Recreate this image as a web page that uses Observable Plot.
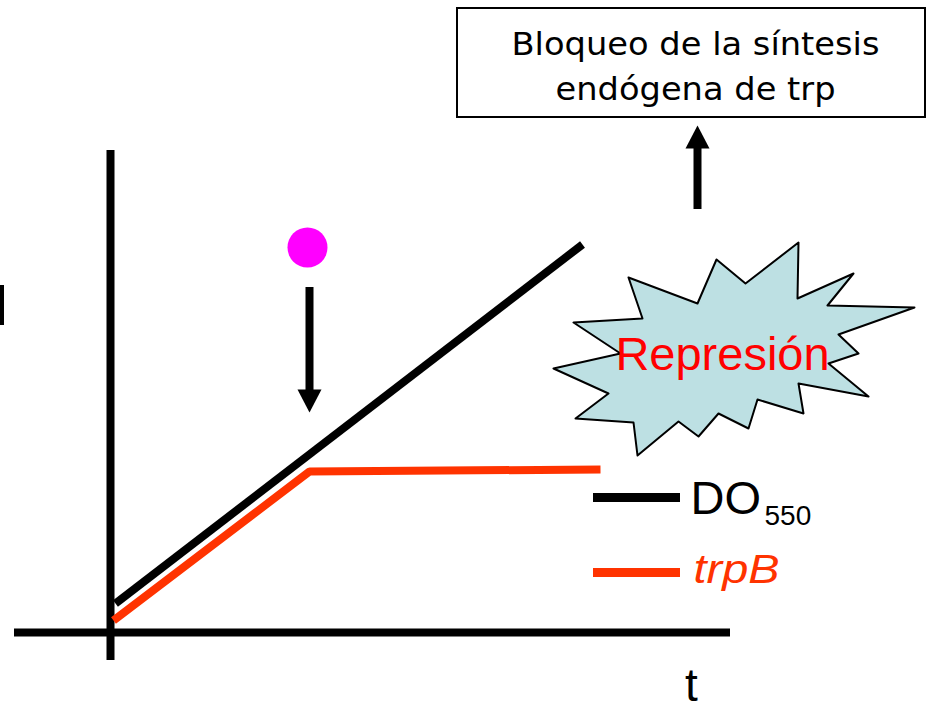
<!DOCTYPE html>
<html>
<head>
<meta charset="utf-8">
<script src="https://cdn.jsdelivr.net/npm/d3@7"></script>
<script src="https://cdn.jsdelivr.net/npm/@observablehq/plot@0.6"></script>
<style>
  html, body { margin: 0; padding: 0; background: white; }
  svg { display: block; }
</style>
</head>
<body>
<div id="chart"></div>
<script>
// ---- data (schematic units: t = time, v = signal) ----
const axisT = [-1.92, 12.4];          // extent of time axis
const axisV = [-0.56, 9.64];          // extent of value axis
const doT = [0.1, 9.44];              // DO550 growth
const doV = [0.58, 7.76];
const trpT = [0.06, 3.98, 9.8];       // trpB expression
const trpV = [0.24, 3.22, 3.26];
const inducerT = [3.94];              // trp addition (magenta dot)
const inducerV = [7.7];
const arrowT = [3.98, 11.74];         // arrows
const arrowFrom = [6.9, 8.46];
const arrowTo = [4.4, 10.14];
const burstT = [13.76,13.74,14.86,14.34,16.08,14.56,14.96,14.36,15.16,13.76,13.86,12.94,12.76,12.16,11.76,11.36,10.54,10.46,9.3,9.96,8.86,10.2,9.26,10.64,10.36,11.74,12.12,12.7];
const burstV = [7.8,6.68,7.18,6.54,6.5,5.96,5.58,5.38,4.72,4.98,4.38,4.66,4.08,4.38,3.92,4.22,3.54,4.2,4.28,4.78,5.28,5.58,6.2,6.28,7.1,6.58,7.46,6.98];
const boxT = [6.94, 16.3];
const boxV = [10.3, 12.48];
const boxLines = ["Bloqueo de la síntesis", "endógena de trp"];
const boxLineV = [11.56, 10.66];
const legendNames = ["DO", "trpB"];
const legendSub = ["550"];
const legendV = [2.7, 1.2];
const legendT = [9.66, 11.4];
const edgeMarkV = [6.14, 6.94];

// ---- derived tables ----
const doData = doT.map((t, i) => ({t, v: doV[i]}));
const trpData = trpT.map((t, i) => ({t, v: trpV[i]}));
const burst = burstT.map((t, i) => ({t, v: burstV[i]}));
const arrows = arrowT.map((t, i) => ({t, from: arrowFrom[i], to: arrowTo[i]}));
const headLen = 0.46, headHalf = 0.24;
const heads = arrows.flatMap((a, k) => {
  const dir = Math.sign(a.to - a.from);
  const base = a.to - dir * headLen;
  return [
    {k, t: a.t - headHalf, v: base},
    {k, t: a.t + headHalf, v: base},
    {k, t: a.t, v: a.to}
  ];
});
const shafts = arrows.map(a => ({t: a.t, v1: a.from, v2: a.to - Math.sign(a.to - a.from) * (headLen - 0.05)}));

const RED = "#ff3300";

const plot = Plot.plot({
  width: 932,
  height: 711,
  marginTop: 0, marginRight: 0, marginBottom: 0, marginLeft: 0,
  x: {domain: [-2.2, 16.44], axis: null},
  y: {domain: [-1.58, 12.64], axis: null},
  style: {background: "white", fontFamily: "Liberation Sans, Arial, sans-serif"},
  marks: [
    // axes
    Plot.ruleY([0], {x1: axisT[0], x2: axisT[1], stroke: "black", strokeWidth: 8}),
    Plot.ruleX([0], {y1: axisV[0], y2: axisV[1], stroke: "black", strokeWidth: 8}),
    // cut-off mark at left edge
    Plot.ruleX([-2.17], {y1: edgeMarkV[0], y2: edgeMarkV[1], stroke: "black", strokeWidth: 4}),
    // data lines
    Plot.line(doData, {x: "t", y: "v", stroke: "black", strokeWidth: 8, strokeLinecap: "butt"}),
    Plot.line(trpData, {x: "t", y: "v", stroke: RED, strokeWidth: 8, strokeLinecap: "butt", strokeLinejoin: "miter"}),
    // inducer dot
    Plot.dot(inducerT.map((t, i) => ({t, v: inducerV[i]})), {x: "t", y: "v", r: 20, fill: "#ff00ff", stroke: "none"}),
    // arrows
    Plot.ruleX(shafts, {x: "t", y1: "v1", y2: "v2", stroke: "black", strokeWidth: 8}),
    Plot.line(heads, {x: "t", y: "v", z: "k", fill: "black", stroke: "none", curve: "linear-closed"}),
    // box
    Plot.rect([{}], {x1: boxT[0], x2: boxT[1], y1: boxV[0], y2: boxV[1], fill: "white", stroke: "black", strokeWidth: 2}),
    Plot.text(boxLines, {x: (boxT[0] + boxT[1]) / 2 + 0.08, y: (d, i) => boxLineV[i], text: d => d, fontSize: 32, fontFamily: "DejaVu Sans", lineAnchor: "bottom", fill: "black"}),
    // starburst
    Plot.line(burst, {x: "t", y: "v", fill: "#bde0e3", stroke: "black", strokeWidth: 2, curve: "linear-closed"}),
    Plot.text(["Represión"], {x: 12.24, y: 5.26, text: d => d, fontSize: 47, fill: "#ff0000", lineAnchor: "bottom"}),
    // legend
    Plot.ruleY(legendV, {x1: legendT[0], x2: legendT[1], stroke: (d, i) => i === 0 ? "black" : RED, strokeWidth: 9}),
    Plot.text([legendNames[0]], {x: 11.6, y: legendV[0] - 0.32, text: d => d, textAnchor: "start", lineAnchor: "bottom", fontSize: 47, fill: "black"}),
    Plot.text(legendSub, {x: 13.08, y: legendV[0] - 0.54, text: d => d, textAnchor: "start", lineAnchor: "bottom", fontSize: 28, fill: "black"}),
    Plot.text([legendNames[1]], {x: 11.66, y: legendV[1] - 0.2, text: d => d, textAnchor: "start", lineAnchor: "bottom", fontSize: 40, fontStyle: "italic", fill: RED}),
    // axis label
    Plot.text(["t"], {x: 11.62, y: -1.36, text: d => d, fontSize: 46, lineAnchor: "bottom", fill: "black"})
  ]
});

// stretch some texts to match the reference widths
const widths = {"Bloqueo de la síntesis": 368, "endógena de trp": 280, "trpB": 86};
d3.select(plot).selectAll("text").each(function() {
  const s = this.textContent;
  if (widths[s]) {
    this.setAttribute("textLength", widths[s]);
    this.setAttribute("lengthAdjust", "spacingAndGlyphs");
  }
});

document.getElementById("chart").appendChild(plot);
</script>
</body>
</html>
